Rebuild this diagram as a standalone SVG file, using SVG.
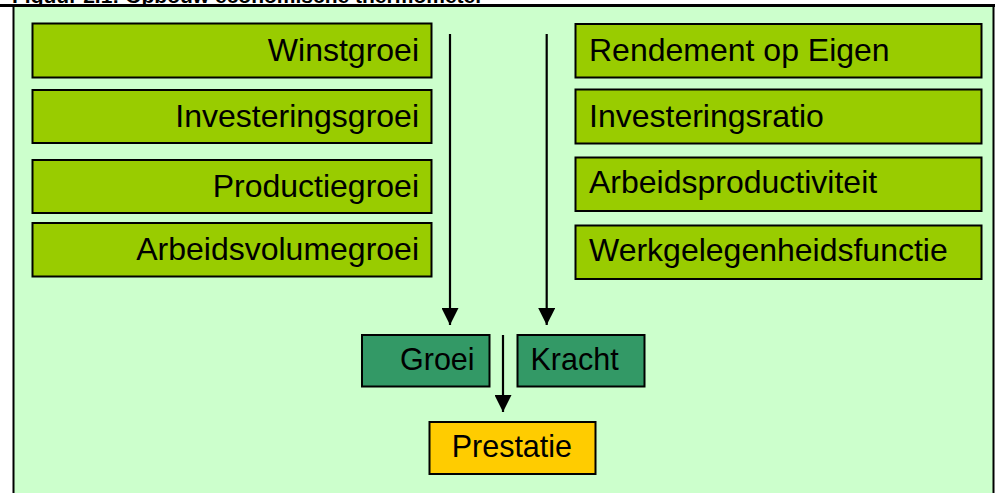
<svg xmlns="http://www.w3.org/2000/svg" width="1000" height="493" viewBox="0 0 1000 493">
<style>
.box{stroke:#000;stroke-width:2}
.g{fill:#99CC00}
.d{fill:#339966}
.y{fill:#FFCC00}
.t{font-family:"Liberation Sans",Arial,sans-serif;font-size:32px;fill:#000}
.s{font-family:"Liberation Sans",Arial,sans-serif;font-size:30.5px;fill:#000}
.c{stroke:#000;stroke-width:2.2;fill:none;marker-end:url(#ah)}
</style>
<defs>
<marker id="ah" markerUnits="userSpaceOnUse" markerWidth="17" markerHeight="17" refX="17" refY="8.5" orient="auto">
<path d="M0,0 L17,8.5 L0,17 z" fill="#000"/>
</marker>
</defs>
<rect x="0" y="0" width="1000" height="493" fill="#fff"/>
<text x="12" y="3" font-family="Liberation Sans,Arial,sans-serif" font-weight="bold" font-size="21">Figuur 2.1: Opbouw economische thermometer</text>
<rect x="13.5" y="5.5" width="980" height="490" fill="#CCFFCC" stroke="#000" stroke-width="2"/>
<line x1="0" y1="5.5" x2="995" y2="5.5" stroke="#000" stroke-width="3"/>
<g id="winstgroei"><rect class="box g" x="32.5" y="23.5" width="399" height="54"/><text class="t" x="419" y="61" text-anchor="end">Winstgroei</text></g>
<g id="investeringsgroei"><rect class="box g" x="32.5" y="90" width="399" height="53"/><text class="t" x="419" y="127" text-anchor="end">Investeringsgroei</text></g>
<g id="productiegroei"><rect class="box g" x="32.5" y="160" width="399" height="53"/><text class="t" x="419" y="197" text-anchor="end">Productiegroei</text></g>
<g id="arbeidsvolumegroei"><rect class="box g" x="32.5" y="223" width="399" height="53.5"/><text class="t" x="419" y="260" text-anchor="end">Arbeidsvolumegroei</text></g>
<g id="rendement"><rect class="box g" x="575.5" y="24" width="406" height="53.5"/><text class="t" x="589" y="61">Rendement op Eigen</text></g>
<g id="investeringsratio"><rect class="box g" x="575.5" y="89.5" width="406" height="54"/><text class="t" x="589" y="127">Investeringsratio</text></g>
<g id="arbeidsproductiviteit"><rect class="box g" x="575.5" y="157.5" width="406" height="53.5"/><text class="t" x="589" y="193">Arbeidsproductiviteit</text></g>
<g id="werkgelegenheidsfunctie"><rect class="box g" x="575.5" y="225.5" width="406" height="53.5"/><text class="t" x="589" y="261">Werkgelegenheidsfunctie</text></g>
<g id="groei"><rect class="box d" x="362" y="335" width="127.5" height="51.5"/><text class="s" x="400" y="370">Groei</text></g>
<g id="kracht"><rect class="box d" x="517.5" y="335" width="127" height="51.5"/><text class="s" x="530.5" y="370">Kracht</text></g>
<g id="prestatie"><rect class="box y" x="429.5" y="422" width="166" height="52"/><text class="s" x="451.7" y="457.3">Prestatie</text></g>
<g id="connectors">
<line class="c" x1="450" y1="34" x2="450" y2="325"/>
<line class="c" x1="546.7" y1="34" x2="546.7" y2="325"/>
<line class="c" x1="503" y1="335" x2="503" y2="412"/>
</g>
</svg>
